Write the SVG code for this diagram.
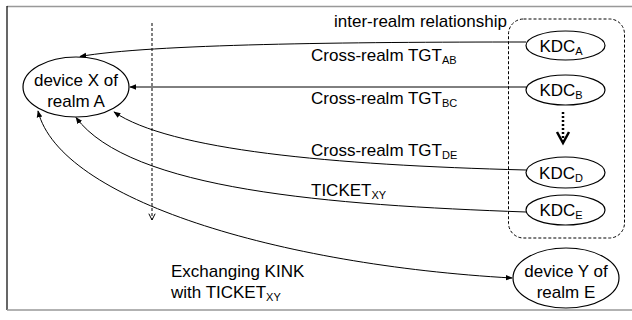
<svg xmlns="http://www.w3.org/2000/svg" width="632" height="320" viewBox="0 0 632 320">
  <style>
    text { font-family: "Liberation Sans", Arial, sans-serif; font-size: 17px; fill: #000; }
    .sub { font-size: 11px; }
    .node { fill: #fff; stroke: #000; stroke-width: 1.2; }
    .edge { fill: none; stroke: #000; stroke-width: 1; }
  </style>
  <defs>
    <marker id="arrow" viewBox="0 0 10 10" refX="9" refY="5" markerWidth="7" markerHeight="7" markerUnits="userSpaceOnUse" orient="auto-start-reverse">
      <path d="M0,1 L10,5 L0,9 z" fill="#000"/>
    </marker>
    <marker id="vopen" viewBox="0 0 10 10" refX="9" refY="5" markerWidth="9" markerHeight="9" markerUnits="userSpaceOnUse" orient="auto">
      <path d="M2,1.5 L9,5 L2,8.5" fill="none" stroke="#000" stroke-width="1.1"/>
    </marker>
  </defs>

  <!-- frame -->
  <g id="frame">
    <line x1="7" y1="6.5" x2="632" y2="6.5" stroke="#999" stroke-width="1.5"/>
    <line x1="7" y1="6" x2="7" y2="310" stroke="#000" stroke-width="1.2"/>
    <line x1="7" y1="310" x2="632" y2="310" stroke="#999" stroke-width="1.5"/>
  </g>

  <!-- inter-realm relationship group -->
  <g id="inter-realm">
    <rect x="508.5" y="19" width="116" height="219" rx="15" ry="15" fill="none" stroke="#000" stroke-width="1" stroke-dasharray="3,2"/>
    <text x="334" y="27">inter-realm relationship</text>
  </g>

  <!-- connectors -->
  <g id="connectors">
    <!-- realm boundary -->
    <line x1="152" y1="23" x2="152" y2="220" stroke="#000" stroke-width="1" stroke-dasharray="3,2" marker-end="url(#vopen)"/>
    <!-- chain of KDCs -->
    <line x1="563" y1="112" x2="563" y2="142" stroke="#000" stroke-width="2.5" stroke-dasharray="2,2"/>
    <path d="M557,132 L563,143 L569,132" fill="none" stroke="#000" stroke-width="2.5"/>

    <path class="edge" d="M526,42 C 350,42 150,44 80,56.5" marker-end="url(#arrow)"/>
    <path class="edge" d="M526,87 L130,87" marker-end="url(#arrow)"/>
    <path class="edge" d="M526,170 C 330,165 170,150 114,112" marker-end="url(#arrow)"/>
    <path class="edge" d="M526,212 C 330,205 130,190 76,117.5" marker-end="url(#arrow)"/>
    <path class="edge" d="M38,111 C 60,200 280,265 512,278" marker-start="url(#arrow)" marker-end="url(#arrow)"/>

    <text x="311" y="61">Cross-realm TGT<tspan class="sub" dy="3">AB</tspan></text>
    <text x="311" y="104">Cross-realm TGT<tspan class="sub" dy="3">BC</tspan></text>
    <text x="311" y="156">Cross-realm TGT<tspan class="sub" dy="3">DE</tspan></text>
    <text x="311" y="196">TICKET<tspan class="sub" dy="3">XY</tspan></text>
    <text x="171" y="277">Exchanging KINK</text>
    <text x="171" y="298">with TICKET<tspan class="sub" dy="3">XY</tspan></text>
  </g>

  <g id="deviceX">
    <ellipse class="node" cx="76" cy="87" rx="53" ry="30"/>
    <text x="76" y="86" text-anchor="middle">device X of</text>
    <text x="76" y="107" text-anchor="middle">realm A</text>
  </g>

  <g id="deviceY">
    <ellipse class="node" cx="566" cy="278" rx="53" ry="30"/>
    <text x="566" y="277" text-anchor="middle">device Y of</text>
    <text x="566" y="298" text-anchor="middle">realm E</text>
  </g>

  <g id="kdcA">
    <ellipse class="node" cx="565.5" cy="45.5" rx="39.5" ry="14.5"/>
    <text x="561" y="52" text-anchor="middle">KDC<tspan class="sub" dy="3">A</tspan></text>
  </g>
  <g id="kdcB">
    <ellipse class="node" cx="565.5" cy="90" rx="39.5" ry="15"/>
    <text x="561" y="96" text-anchor="middle">KDC<tspan class="sub" dy="3">B</tspan></text>
  </g>
  <g id="kdcD">
    <ellipse class="node" cx="565.5" cy="172.5" rx="39.5" ry="15.5"/>
    <text x="561" y="179" text-anchor="middle">KDC<tspan class="sub" dy="3">D</tspan></text>
  </g>
  <g id="kdcE">
    <ellipse class="node" cx="565.5" cy="210" rx="39.5" ry="15"/>
    <text x="561" y="216" text-anchor="middle">KDC<tspan class="sub" dy="3">E</tspan></text>
  </g>
</svg>
